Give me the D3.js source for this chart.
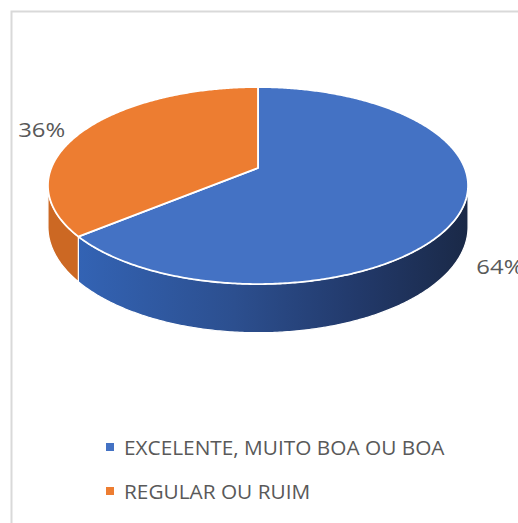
<!DOCTYPE html>
<html>
<head>
<meta charset="utf-8">
<script src="https://cdn.jsdelivr.net/npm/d3@7"></script>
<style>
  body { margin: 0; background: #fff; }
  text { font-family: "Open Sans", sans-serif; fill: #595959; }
</style>
</head>
<body>
<script>
let categories = ["EXCELENTE, MUITO BOA OU BOA", "REGULAR OU RUIM"]
let values = [64, 36]
let topColors = ["#4472c4", "#ed7d31"]
let sideColors = ["url(#blueSide)", "#cc6823"]

let width = 518
let height = 523

// perspective of the tilted disc
let cx = 258
let cy = 168
let F = 206.7
let G = 95.4
let k = 0.178
let depth = 40

let svg = d3.select("body").append("svg")
    .attr("width", width)
    .attr("height", height)

let defs = svg.append("defs")
let grad = defs.append("linearGradient").attr("id", "blueSide")
grad.append("stop").attr("offset", "0%").attr("stop-color", "#3363b4")
grad.append("stop").attr("offset", "40%").attr("stop-color", "#2c4f8f")
grad.append("stop").attr("offset", "72%").attr("stop-color", "#22396a")
grad.append("stop").attr("offset", "100%").attr("stop-color", "#1a2947")

svg.append("rect")
    .attr("x", 11.5).attr("y", 11.5)
    .attr("width", width).attr("height", height)
    .attr("fill", "#fff")
    .attr("stroke", "#d9d9d9")
    .attr("stroke-width", 2)

let proj = (a, h) => {
    let u = Math.sin(a), v = Math.cos(a), s = 1 + k * v
    return [cx + F * u / s, cy - G * v / s + depth * h / s]
}

let arcPoints = (a0, a1, h) => {
    let n = Math.max(2, Math.ceil((a1 - a0) / 0.01))
    return d3.range(n + 1).map(i => proj(a0 + (a1 - a0) * i / n, h))
}

let line = d3.line()

let pie = d3.pie().sort(null)
let arcs = pie(values)
let total = d3.sum(values)

let aL = Math.acos(-k)
let aR = 2 * Math.PI - aL

// side walls
arcs.forEach((d, i) => {
    let s = Math.max(d.startAngle, aL)
    let e = Math.min(d.endAngle, aR)
    if (s >= e) return
    let pts = arcPoints(s, e, 0).concat(arcPoints(s, e, 1).reverse())
    svg.append("path")
        .attr("d", line(pts) + "Z")
        .attr("fill", sideColors[i])
        .attr("stroke", "#fff")
        .attr("stroke-width", 1.2)
        .attr("stroke-linejoin", "round")
})

// top faces
arcs.forEach((d, i) => {
    let pts = [[cx, cy]].concat(arcPoints(d.startAngle, d.endAngle, 0))
    svg.append("path")
        .attr("d", line(pts) + "Z")
        .attr("fill", topColors[i])
        .attr("stroke", "#fff")
        .attr("stroke-width", 1.8)
        .attr("stroke-linejoin", "round")
})

// data labels
let fmt = d3.format(".0%")
arcs.forEach((d, i) => {
    let mid = (d.startAngle + d.endAngle) / 2
    let p = proj(mid, 0)
    let left = p[0] < cx
    svg.append("text")
        .attr("x", left ? p[0] - 19 : p[0] + 16)
        .attr("y", left ? p[1] + 7 : p[1] + 62)
        .attr("text-anchor", left ? "end" : "start")
        .attr("font-size", 19.5)
        .attr("textLength", 47)
        .attr("lengthAdjust", "spacingAndGlyphs")
        .text(fmt(d.value / total))
})

// legend
let legend = svg.append("g")
categories.forEach((c, i) => {
    let y = 455 + i * 44
    legend.append("rect")
        .attr("x", 106).attr("y", y - 12)
        .attr("width", 8).attr("height", 8)
        .attr("fill", topColors[i])
    legend.append("text")
        .attr("x", 124).attr("y", y)
        .attr("font-size", 20.8)
        .text(c)
})
</script>
</body>
</html>
